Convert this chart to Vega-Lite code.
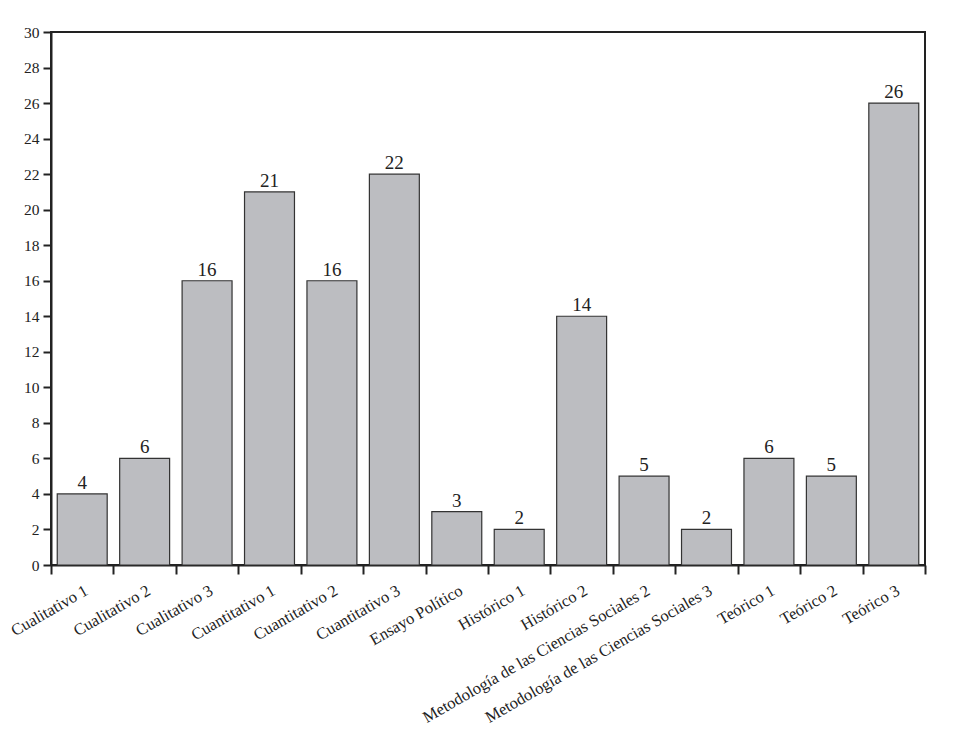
{
  "$schema": "https://vega.github.io/schema/vega-lite/v6.json",
  "width": 874,
  "height": 533,
  "autosize": {"type": "none"},
  "padding": {"left": 51, "top": 32, "right": 46, "bottom": 172},
  "background": "white",
  "config": {
    "view": {"stroke": "#222", "strokeWidth": 2},
    "font": "Liberation Serif"
  },
  "data": {
    "values": [
      {"categoria": "Cualitativo 1", "valor": 4},
      {"categoria": "Cualitativo 2", "valor": 6},
      {"categoria": "Cualitativo 3", "valor": 16},
      {"categoria": "Cuantitativo 1", "valor": 21},
      {"categoria": "Cuantitativo 2", "valor": 16},
      {"categoria": "Cuantitativo 3", "valor": 22},
      {"categoria": "Ensayo Político", "valor": 3},
      {"categoria": "Histórico 1", "valor": 2},
      {"categoria": "Histórico 2", "valor": 14},
      {"categoria": "Metodología de las Ciencias Sociales 2", "valor": 5},
      {"categoria": "Metodología de las Ciencias Sociales 3", "valor": 2},
      {"categoria": "Teórico 1", "valor": 6},
      {"categoria": "Teórico 2", "valor": 5},
      {"categoria": "Teórico 3", "valor": 26}
    ]
  },
  "encoding": {
    "x": {
      "field": "categoria",
      "type": "nominal",
      "sort": null,
      "scale": {"paddingInner": 0, "paddingOuter": 0},
      "axis": {
        "title": null,
        "labelAngle": -30,
        "labelFontSize": 16.5,
        "labelColor": "#222",
        "labelPadding": 8,
        "labelLimit": 400,
        "tickBand": "extent",
        "tickExtra": true,
        "tickSize": 9,
        "tickWidth": 2,
        "tickColor": "#222",
        "domainColor": "#222",
        "domainWidth": 2
      }
    },
    "y": {
      "field": "valor",
      "type": "quantitative",
      "scale": {"domain": [0, 30]},
      "axis": {
        "title": null,
        "values": [0, 2, 4, 6, 8, 10, 12, 14, 16, 18, 20, 22, 24, 26, 28, 30],
        "grid": false,
        "labelFontSize": 15.5,
        "labelColor": "#222",
        "labelPadding": 4,
        "tickSize": 8,
        "tickWidth": 2,
        "tickColor": "#222",
        "domainColor": "#222",
        "domainWidth": 2
      }
    }
  },
  "layer": [
    {
      "mark": {"type": "bar", "width": {"band": 0.8}, "fill": "#bcbdc1", "stroke": "#333", "strokeWidth": 1.2}
    },
    {
      "mark": {"type": "text", "baseline": "bottom", "dy": -1, "fontSize": 19, "color": "#222"},
      "encoding": {"text": {"field": "valor", "type": "quantitative"}}
    }
  ]
}
